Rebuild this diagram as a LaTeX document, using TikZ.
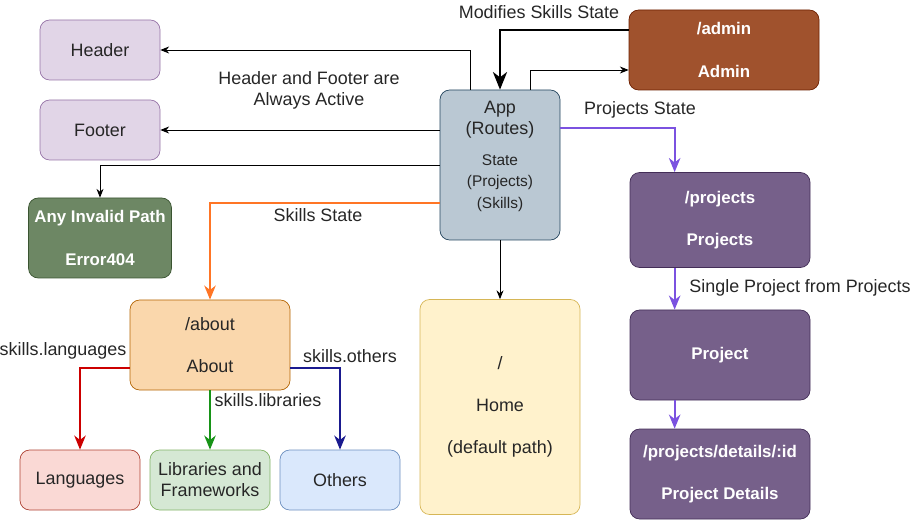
\documentclass[tikz,border=0pt]{standalone}
\usepackage{fontspec}
\setmainfont{Liberation Sans}
\usetikzlibrary{arrows.meta,calc}
\definecolor{hdrfill}{HTML}{E1D5E7}
\definecolor{hdrline}{HTML}{9673A6}
\definecolor{appfill}{HTML}{BAC8D3}
\definecolor{appline}{HTML}{23445D}
\definecolor{admfill}{HTML}{A0522D}
\definecolor{admline}{HTML}{6D1F00}
\definecolor{errfill}{HTML}{6D8764}
\definecolor{errline}{HTML}{3A5431}
\definecolor{prjfill}{HTML}{76608A}
\definecolor{prjline}{HTML}{432D57}
\definecolor{abtfill}{HTML}{FAD7AC}
\definecolor{abtline}{HTML}{B46504}
\definecolor{lanfill}{HTML}{FAD9D5}
\definecolor{lanline}{HTML}{AE4132}
\definecolor{libfill}{HTML}{D5E8D4}
\definecolor{libline}{HTML}{82B366}
\definecolor{othfill}{HTML}{DAE8FC}
\definecolor{othline}{HTML}{6C8EBF}
\definecolor{homfill}{HTML}{FFF2CC}
\definecolor{homline}{HTML}{D6B656}
\definecolor{prjarrow}{HTML}{7B52E0}
\definecolor{abtarrow}{HTML}{FF7525}
\definecolor{lanarrow}{HTML}{CC0000}
\definecolor{libarrow}{HTML}{179317}
\definecolor{otharrow}{HTML}{1A1A8F}
\newcommand{\statefont}{\fontsize{8.8}{11}\selectfont}
\begin{document}
\begin{tikzpicture}[x=0.02cm, y=-0.02cm]
 \tikzset{box/.style={draw, rounded corners=5.5pt, align=center, font=\fontsize{10.2}{12}\selectfont, text=black!85},
   darkbox/.style={box, text=white, font=\fontsize{9.6}{12}\selectfont\bfseries},
   thin/.style={-{Stealth[length=5pt,width=4pt]}, line width=0.55pt},
   thick/.style={-{Stealth[length=8pt,width=6.5pt,inset=2.5pt]}, line width=1.2pt},
   label/.style={font=\fontsize{10.2}{12}\selectfont, text=black!85, align=center}}
  \useasboundingbox (0,0) rectangle (920,520);
  \node[box, fill=hdrfill, draw=hdrline, minimum width=120*0.02cm, minimum height=60*0.02cm] (Header) at (100,50) {Header};
  \node[box, fill=hdrfill, draw=hdrline, minimum width=120*0.02cm, minimum height=60*0.02cm] (Footer) at (100,130) {Footer};
  \node[box, fill=appfill, draw=appline, minimum width=120*0.02cm, minimum height=150*0.02cm] (App) at (500,165) {App\\(Routes)\\[6pt]\statefont State\\\statefont (Projects)\\\statefont (Skills)\\ \mbox{}};
  \node[darkbox, fill=admfill, draw=admline, minimum width=190*0.02cm, minimum height=80*0.02cm] (Admin) at (724,50) {/admin\\[12pt]Admin};
  \node[darkbox, fill=errfill, draw=errline, minimum width=140*0.02cm, minimum height=80*0.02cm] (Error) at (100,238) {Any Invalid Path\\[12pt]Error404};
  \node[darkbox, fill=prjfill, draw=prjline, minimum width=180*0.02cm, minimum height=95*0.02cm] (Projects) at (720,220) {/projects\\[12pt]Projects};
  \node[darkbox, fill=prjfill, draw=prjline, minimum width=180*0.02cm, minimum height=90*0.02cm] (Project) at (720,355) {Project};
  \node[darkbox, fill=prjfill, draw=prjline, minimum width=180*0.02cm, minimum height=90*0.02cm] (Details) at (720,474) {/projects/details/:id\\[12pt]Project Details};
  \node[box, fill=abtfill, draw=abtline, minimum width=160*0.02cm, minimum height=90*0.02cm] (About) at (210,345) {/about\\[12pt]About};
  \node[box, fill=lanfill, draw=lanline, minimum width=120*0.02cm, minimum height=60*0.02cm] (Lang) at (80,480) {Languages};
  \node[box, fill=libfill, draw=libline, minimum width=120*0.02cm, minimum height=60*0.02cm] (Lib) at (210,480) {Libraries and\\Frameworks};
  \node[box, fill=othfill, draw=othline, minimum width=120*0.02cm, minimum height=60*0.02cm] (Others) at (340,480) {Others};
  \node[box, fill=homfill, draw=homline, minimum width=160*0.02cm, minimum height=215*0.02cm] (Home) at (500,407) {/\\[12pt]Home\\[12pt](default path)};
  \draw[thin] ($(App.north)+(-30,0)$) |- (Header.east);
  \draw[thin] ($(App.north)+(30,0)$) |- ($(Admin.west)+(0,20)$);
  \draw[-{Stealth[length=10pt,width=8pt,inset=3pt]}, line width=1.7pt] ($(Admin.west)+(0,-20)$) -| (App.north);
  \draw[thin] ($(App.west)+(0,-35)$) -- (Footer.east);
  \draw[thin] (App.west) -| (Error.north);
  \draw[thick, color=abtarrow] ($(App.west)+(0,38)$) -| (About.north);
  \draw[thin] (App.south) -- (Home.north);
  \draw[thick, color=prjarrow] ($(App.east)+(0,-37)$) -| ($(Projects.north west)+(45,0)$);
  \draw[thick, color=prjarrow] ($(Projects.south west)+(45,0)$) -- ($(Project.north west)+(45,0)$);
  \draw[thick, color=prjarrow] ($(Project.south west)+(45,0)$) -- ($(Details.north west)+(45,0)$);
  \draw[thick, color=lanarrow] ($(About.west)+(0,23)$) -| (Lang.north);
  \draw[thick, color=libarrow] (About.south) -- (Lib.north);
  \draw[thick, color=otharrow] ($(About.east)+(0,23)$) -| (Others.north);
  \node[label] (lblmod) at (539,12) {Modifies Skills State};
  \node[label] (lblhf) at (309,90) {Header and Footer are\\Always Active};
  \node[label] (lblprj) at (640,110) {Projects State};
  \node[label] (lblskl) at (318,215) {Skills State};
  \node[label] (lblsgl) at (800,288) {Single Project from Projects};
  \node[label] (lbllan) at (63,351) {skills.languages};
  \node[label] (lbllib) at (268,400) {skills.libraries};
  \node[label] (lbloth) at (350,356) {skills.others};
\end{tikzpicture}
\end{document}
